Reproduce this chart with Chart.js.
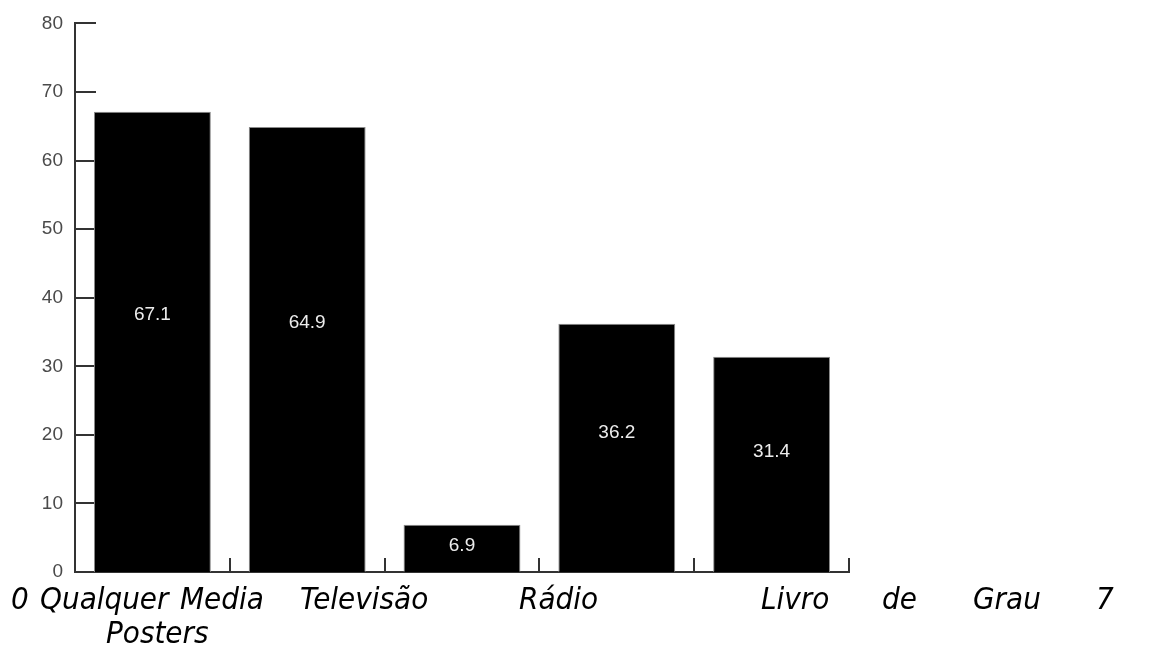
<!DOCTYPE html>
<html>
<head>
<meta charset="utf-8">
<script src="https://cdn.jsdelivr.net/npm/chart.js@4.4.1/dist/chart.umd.min.js"></script>
<style>
  html, body { margin: 0; padding: 0; background: #fff; }
  #wrap { position: relative; width: 1153px; height: 648px; overflow: hidden; }
  #chartBox { position: absolute; left: 0; top: 0; width: 1153px; height: 648px; }
  .w { position: absolute; font-family: "DejaVu Sans Condensed", "DejaVu Sans", sans-serif; font-stretch: condensed;
       font-style: italic; font-size: 31px; line-height: 31px; color: #000; white-space: nowrap; }
</style>
</head>
<body>
<div id="wrap">
  <div id="chartBox"><canvas id="c"></canvas></div>
  <span class="w" style="left:11px; top:583px;">0</span>
  <span class="w" style="left:40px; top:583px;">Qualquer</span>
  <span class="w" style="left:180px; top:583px;">Media</span>
  <span class="w" style="left:300px; top:583px;">Televisão</span>
  <span class="w" style="left:519px; top:583px;">Rádio</span>
  <span class="w" style="left:761px; top:583px;">Livro</span>
  <span class="w" style="left:882px; top:583px;">de</span>
  <span class="w" style="left:973px; top:583px;">Grau</span>
  <span class="w" style="left:1096px; top:583px;">7</span>
  <span class="w" style="left:106px; top:617px;">Posters</span>
</div>
<script>
const categories = ['Qualquer Media', 'Televisão', 'Rádio', 'Posters', 'Livro de Grau 7'];
const values = [67.1, 64.9, 6.9, 36.2, 31.4];
const valueLabels = ['67.1', '64.9', '6.9', '36.2', '31.4'];
const yTickValues = [0, 10, 20, 30, 40, 50, 60, 70, 80];

const axisColor = '#333';

const axisTicksPlugin = {
  id: 'axisTicks',
  beforeDatasetsDraw(chart) {
    const ctx = chart.ctx;
    const ys = chart.scales.y, xs = chart.scales.x;
    ctx.save();
    ctx.strokeStyle = axisColor;
    ctx.lineWidth = 2;
    ys.ticks.forEach(t => {
      const y = Math.round(ys.getPixelForValue(t.value));
      ctx.beginPath();
      ctx.moveTo(ys.right, y);
      ctx.lineTo(ys.right + 21, y);
      ctx.stroke();
    });
    const n = categories.length;
    const w = (xs.right - xs.left) / n;
    for (let i = 1; i <= n; i++) {
      const x = Math.round(xs.left + i * w);
      ctx.beginPath();
      ctx.moveTo(x, xs.top);
      ctx.lineTo(x, xs.top - 14);
      ctx.stroke();
    }
    ctx.restore();
  }
};

const valueLabelPlugin = {
  id: 'valueLabels',
  afterDatasetsDraw(chart) {
    const ctx = chart.ctx;
    const ys = chart.scales.y;
    const meta = chart.getDatasetMeta(0);
    ctx.save();
    ctx.fillStyle = '#ececec';
    ctx.font = '19px "Liberation Sans", Arial, sans-serif';
    ctx.textAlign = 'center';
    ctx.textBaseline = 'middle';
    meta.data.forEach((bar, i) => {
      const y = ys.getPixelForValue(values[i] * 0.56);
      ctx.fillText(valueLabels[i], bar.x, y);
    });
    ctx.restore();
  }
};

new Chart(document.getElementById('c'), {
  type: 'bar',
  data: {
    labels: categories,
    datasets: [{
      data: values,
      backgroundColor: '#000',
      borderColor: '#8a8a8a',
      borderWidth: 1,
      barPercentage: 0.755,
      categoryPercentage: 1.0
    }]
  },
  options: {
    responsive: true,
    maintainAspectRatio: false,
    devicePixelRatio: 1,
    animation: false,
    layout: { padding: { left: 0, top: 23, right: 304, bottom: 0 } },
    plugins: { legend: { display: false }, tooltip: { enabled: false } },
    scales: {
      x: {
        offset: true,
        grid: { display: false, drawTicks: false },
        border: { display: true, color: axisColor, width: 2 },
        ticks: { display: false },
        afterFit(s) { s.height = 76; }
      },
      y: {
        min: 0, max: 80,
        afterBuildTicks(s) { s.ticks = yTickValues.map(v => ({ value: v })); },
        grid: { display: false, drawTicks: false },
        border: { display: true, color: axisColor, width: 2 },
        ticks: {
          padding: 12,
          color: '#4a4a4a',
          font: { family: '"Liberation Sans", Arial, sans-serif', size: 19 }
        },
        afterFit(s) { s.width = 75; }
      }
    }
  },
  plugins: [axisTicksPlugin, valueLabelPlugin]
});
</script>
</body>
</html>
